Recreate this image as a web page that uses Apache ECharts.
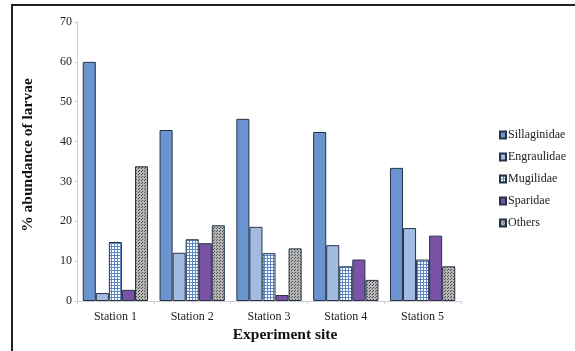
<!DOCTYPE html>
<html><head><meta charset="utf-8">
<script src="https://cdn.jsdelivr.net/npm/echarts@6/dist/echarts.min.js"></script>
<style>html,body{margin:0;padding:0;background:#fff}#c{width:575px;height:351px}</style>
</head><body><div id="c"></div>
<script>
var categories = ['Station 1', 'Station 2', 'Station 3', 'Station 4', 'Station 5'];
var seriesNames = ['Sillaginidae', 'Engraulidae', 'Mugilidae', 'Sparidae', 'Others'];
var sillaginidae = [60, 42.9, 45.7, 42.4, 33.4];
var engraulidae = [2, 12.1, 18.6, 14.0, 18.3];
var mugilidae = [14.8, 15.5, 12.0, 8.7, 10.4];
var sparidae = [2.8, 14.5, 1.5, 10.4, 16.4];
var others = [33.8, 19.0, 13.2, 5.3, 8.7];
var values = [sillaginidae, engraulidae, mugilidae, sparidae, others];

function gridPattern() {
  var c = document.createElement('canvas'); c.width = 3; c.height = 3;
  var g = c.getContext('2d');
  g.fillStyle = '#ffffff'; g.fillRect(0, 0, 3, 3);
  g.fillStyle = '#5d86c6'; g.fillRect(0, 0, 3, 1); g.fillRect(0, 0, 1, 3);
  return c;
}
function dotPattern() {
  var c = document.createElement('canvas'); c.width = 3; c.height = 3;
  var g = c.getContext('2d');
  g.fillStyle = '#b5b5b5'; g.fillRect(0, 0, 3, 3);
  g.fillStyle = '#4f4f4f'; g.fillRect(0, 0, 1, 1); g.fillRect(1, 2, 1, 1);
  return c;
}
var colors = [
  '#6b93cf',
  '#a3bbe0',
  {image: gridPattern(), repeat: 'repeat'},
  '#7a52a6',
  {image: dotPattern(), repeat: 'repeat'}
];

var chart = echarts.init(document.getElementById('c'), null, {renderer: 'canvas'});
var serif = '"Liberation Serif", "DejaVu Serif", serif';
chart.setOption({
  animation: false,
  backgroundColor: '#ffffff',
  grid: {left: 77, right: 114, top: 22, bottom: 50},
  legend: {
    orient: 'vertical', left: 494, top: 124,
    itemWidth: 6, itemHeight: 7, itemGap: 10,
    icon: 'rect',
    textStyle: {fontFamily: serif, fontSize: 12, color: '#222', padding: [0, 0, 0, -3]},
    data: seriesNames
  },
  xAxis: {
    type: 'category', data: categories,
    axisLine: {lineStyle: {color: '#cfcfcf'}},
    axisTick: {show: true, length: 3, lineStyle: {color: '#cfcfcf'}},
    axisLabel: {fontFamily: serif, fontSize: 12, color: '#222', margin: 10}
  },
  yAxis: {
    type: 'value', min: 0, max: 70, interval: 10,
    axisLine: {show: true, lineStyle: {color: '#cfcfcf'}},
    axisTick: {show: true, length: 3, lineStyle: {color: '#cfcfcf'}},
    splitLine: {show: false},
    axisLabel: {fontFamily: serif, fontSize: 12, color: '#222', margin: 5}
  },
  graphic: [
    {type: 'text', x: 285, y: 335, style: {text: 'Experiment site', font: 'bold 15.5px ' + serif, fill: '#111', textAlign: 'center', textVerticalAlign: 'middle'}},
    {type: 'text', x: 28, y: 155, rotation: Math.PI / 2, style: {text: '% abundance of larvae', font: 'bold 15.5px ' + serif, fill: '#111', textAlign: 'center', textVerticalAlign: 'middle'}},
    {type: 'line', shape: {x1: 11, y1: 5, x2: 575, y2: 5}, style: {stroke: '#222', lineWidth: 2}},
    {type: 'line', shape: {x1: 12, y1: 4, x2: 12, y2: 351}, style: {stroke: '#222', lineWidth: 2}}
  ],
  series: seriesNames.map(function (n, i) {
    return {
      name: n, type: 'bar', data: values[i],
      barGap: '0%', barCategoryGap: '15%',
      itemStyle: {color: colors[i], borderColor: '#243447', borderWidth: 1}
    };
  })
});
</script></body></html>
